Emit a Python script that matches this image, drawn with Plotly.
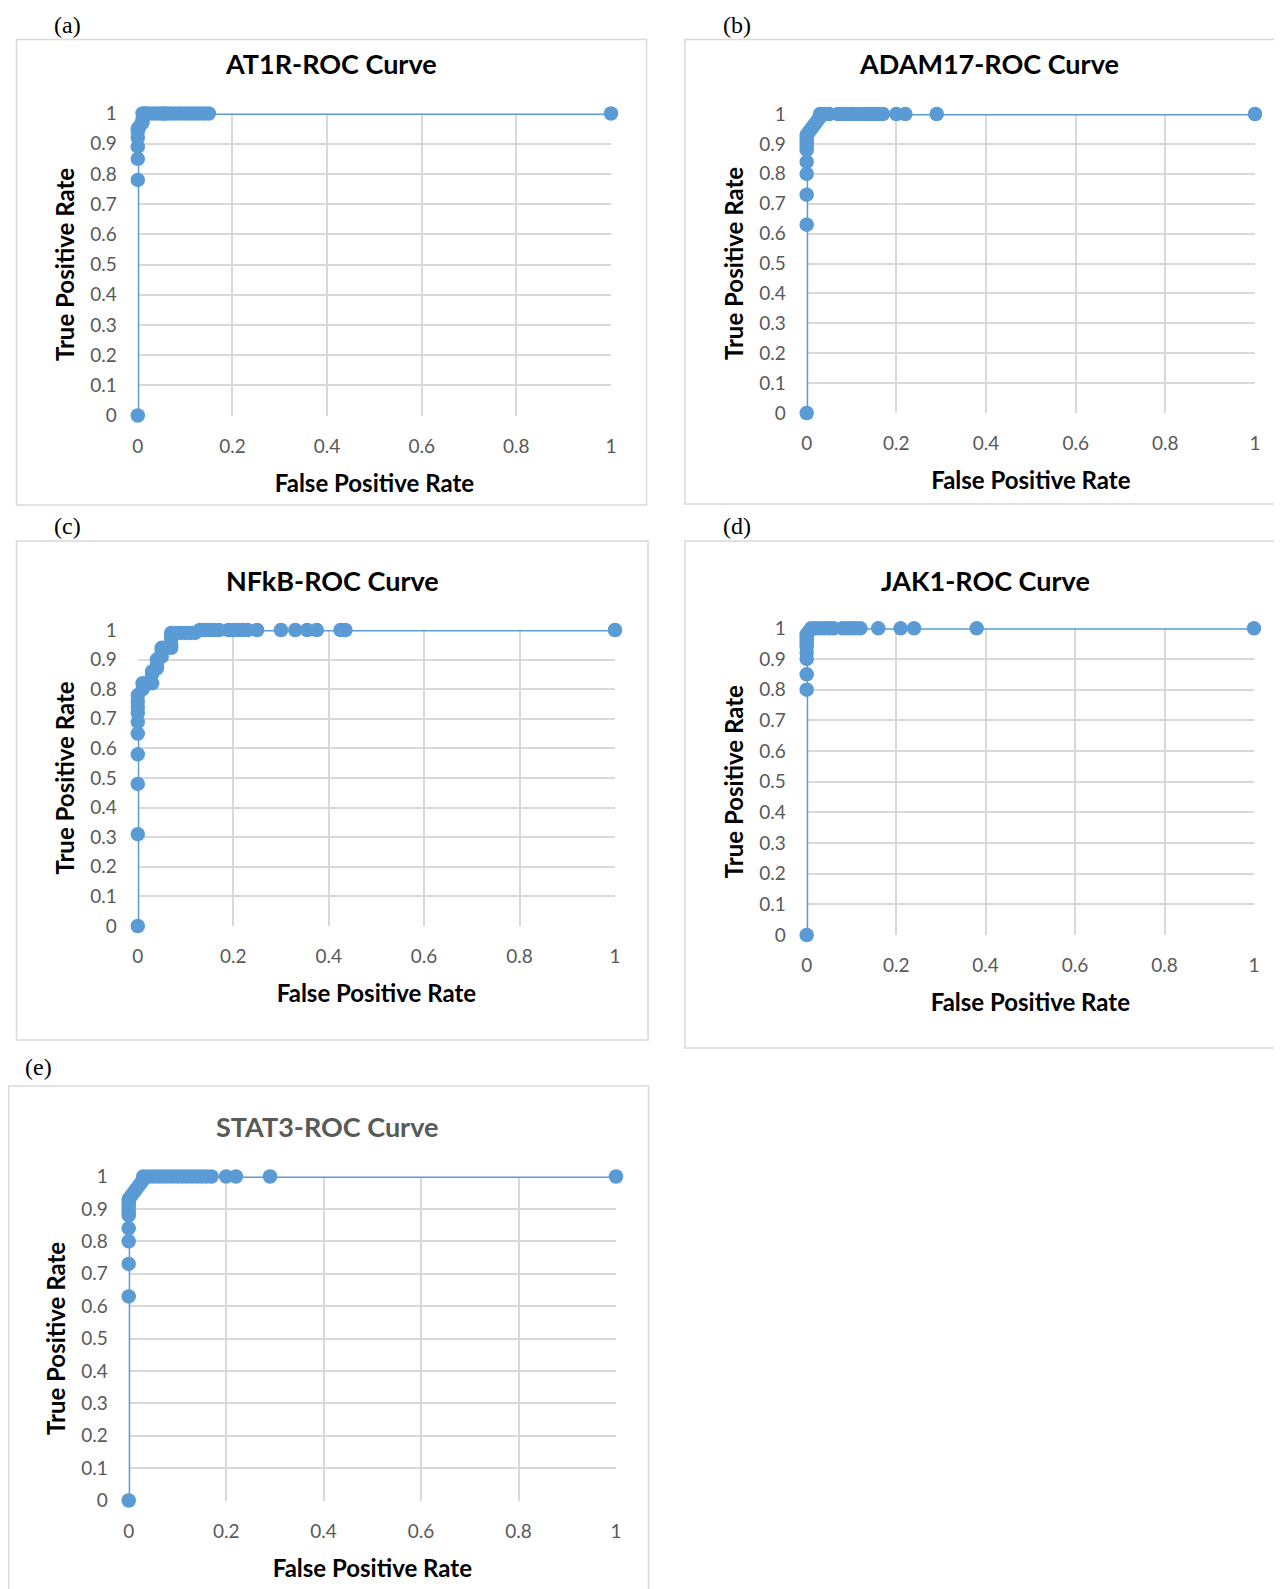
import plotly.graph_objects as go

OFF = 8  # page body margin of the browser
W, H = 1282 - OFF, 1589 - OFF

# ---------------- data ----------------
titles = ["AT1R-ROC Curve", "ADAM17-ROC Curve", "NFkB-ROC Curve", "JAK1-ROC Curve", "STAT3-ROC Curve"]
panel_labels = ["(a)", "(b)", "(c)", "(d)", "(e)"]

fpr_at1r = [0, 0, 0, 0, 0, 0, 0, 0.005, 0.01, 0.01, 0.01, 0.015, 0.02, 0.03, 0.04, 0.05, 0.055,
            0.06, 0.07, 0.08, 0.09, 0.10, 0.11, 0.12, 0.13, 0.14, 0.15, 1]
tpr_at1r = [0, 0.78, 0.85, 0.89, 0.92, 0.94, 0.95, 0.96, 0.97, 0.98, 1, 1, 1, 1, 1, 1, 1,
            1, 1, 1, 1, 1, 1, 1, 1, 1, 1, 1]

fpr_adam17 = [0, 0, 0, 0, 0, 0, 0, 0, 0, 0, 0, 0.005, 0.01, 0.015, 0.02, 0.025, 0.03, 0.03, 0.04,
              0.05, 0.07, 0.08, 0.09, 0.10, 0.11, 0.12, 0.13, 0.14, 0.15, 0.16, 0.17, 0.20, 0.22, 0.29, 1]
tpr_adam17 = [0, 0.63, 0.73, 0.80, 0.84, 0.88, 0.89, 0.90, 0.91, 0.92, 0.93, 0.94, 0.95, 0.96, 0.97, 0.98, 0.99, 1, 1,
              1, 1, 1, 1, 1, 1, 1, 1, 1, 1, 1, 1, 1, 1, 1, 1]

fpr_nfkb = [0, 0, 0, 0, 0, 0, 0, 0, 0, 0, 0.01, 0.01, 0.02, 0.03, 0.03, 0.03, 0.04, 0.04, 0.04,
            0.05, 0.05, 0.05, 0.06, 0.07, 0.07, 0.07, 0.07, 0.07, 0.08, 0.09, 0.10, 0.11, 0.12,
            0.13, 0.14, 0.15, 0.16, 0.17, 0.19, 0.20, 0.21, 0.22, 0.23, 0.25, 0.30, 0.33, 0.355,
            0.375, 0.425, 0.435, 1]
tpr_nfkb = [0, 0.31, 0.48, 0.58, 0.65, 0.69, 0.72, 0.74, 0.76, 0.78, 0.80, 0.82, 0.82, 0.82, 0.85, 0.86, 0.87, 0.88, 0.90,
            0.91, 0.93, 0.94, 0.94, 0.94, 0.95, 0.97, 0.98, 0.99, 0.99, 0.99, 0.99, 0.99, 0.99,
            1, 1, 1, 1, 1, 1, 1, 1, 1, 1, 1, 1, 1, 1,
            1, 1, 1, 1]

fpr_jak1 = [0, 0, 0, 0, 0, 0, 0, 0, 0, 0, 0.005, 0.01, 0.02, 0.03, 0.04, 0.05, 0.06, 0.08, 0.09,
            0.10, 0.11, 0.12, 0.16, 0.21, 0.24, 0.38, 1]
tpr_jak1 = [0, 0.80, 0.85, 0.90, 0.92, 0.94, 0.95, 0.96, 0.97, 0.98, 0.99, 1, 1, 1, 1, 1, 1, 1, 1,
            1, 1, 1, 1, 1, 1, 1, 1]

fpr_stat3 = [0, 0, 0, 0, 0, 0, 0, 0, 0, 0, 0, 0.005, 0.01, 0.015, 0.02, 0.025, 0.03, 0.03, 0.04,
             0.05, 0.06, 0.07, 0.08, 0.09, 0.10, 0.11, 0.12, 0.13, 0.14, 0.15, 0.16, 0.17, 0.20, 0.22, 0.29, 1]
tpr_stat3 = [0, 0.63, 0.73, 0.80, 0.84, 0.88, 0.89, 0.90, 0.91, 0.92, 0.93, 0.94, 0.95, 0.96, 0.97, 0.98, 0.99, 1, 1,
             1, 1, 1, 1, 1, 1, 1, 1, 1, 1, 1, 1, 1, 1, 1, 1, 1]

x_tickvals = [0, 0.2, 0.4, 0.6, 0.8, 1]
x_ticktext = ["0", "0.2", "0.4", "0.6", "0.8", "1"]
y_tickvals = [0, 0.1, 0.2, 0.3, 0.4, 0.5, 0.6, 0.7, 0.8, 0.9, 1]
y_ticktext = ["0", "0.1", "0.2", "0.3", "0.4", "0.5", "0.6", "0.7", "0.8", "0.9", "1"]

series = [(fpr_at1r, tpr_at1r), (fpr_adam17, tpr_adam17), (fpr_nfkb, tpr_nfkb),
          (fpr_jak1, tpr_jak1), (fpr_stat3, tpr_stat3)]

# ---------------- layout geometry (page pixels) ----------------
plot_px = [  # x0, x1, ytop, ybottom
    (137.8, 611.0, 113.5, 415.5),
    (806.7, 1255.0, 114.0, 413.0),
    (137.8, 615.0, 630.0, 926.0),
    (806.7, 1254.0, 628.3, 935.0),
    (128.7, 616.0, 1176.5, 1500.5),
]
box_px = [  # x0, x1, y0, y1
    (16.5, 646.5, 39.5, 505.0),
    (685.0, 1300.0, 39.5, 504.0),
    (16.5, 648.0, 541.0, 1040.0),
    (685.0, 1300.0, 541.0, 1048.0),
    (8.5, 648.5, 1086.0, 1610.0),
]
title_pos = [(331, 64), (989, 64), (332, 580), (985, 580), (327, 1126)]
title_colors = ["#000000", "#000000", "#000000", "#000000", "#595959"]
label_pos = [(67, 25), (737, 25), (67, 526), (737, 526), (38.5, 1067)]

BLUE = "#5B9BD5"
GRID = "#D9D9D9"
FONT = "Lato"


def fx_(px):
    return (px - OFF) / W


def fy_(py):
    return 1 - (py - OFF) / H


fig = go.Figure()
layout = dict(width=W, height=H, margin=dict(l=0, r=0, t=0, b=0, pad=0, autoexpand=False),
              paper_bgcolor="white", plot_bgcolor="white", showlegend=False)

annotations = []
shapes = []
for i, ((fx, ty), (x0, x1, yt, yb)) in enumerate(zip(series, plot_px)):
    n = "" if i == 0 else str(i + 1)
    fig.add_trace(go.Scatter(x=fx, y=ty, mode="lines+markers", xaxis="x" + n, yaxis="y" + n,
                             line=dict(color=BLUE, width=3),
                             marker=dict(color=BLUE, size=14.5),
                             cliponaxis=False, name=titles[i]))
    layout["xaxis" + n] = dict(domain=[fx_(x0), fx_(x1)], anchor="y" + n, range=[0, 1],
                               automargin=False,
                               tickvals=x_tickvals, ticktext=x_ticktext,
                               showgrid=True, gridcolor=GRID, gridwidth=1.5, zeroline=False,
                               showline=False, ticks="", ticklabelstandoff=17,
                               tickfont=dict(family=FONT, size=19, color="#595959"),
                               title=dict(text="False Positive Rate", standoff=19,
                                          font=dict(family=FONT, size=24, color="#000000", weight="bold")))
    layout["yaxis" + n] = dict(domain=[fy_(yb), fy_(yt)], anchor="x" + n, range=[0, 1],
                               automargin=False,
                               tickvals=y_tickvals, ticktext=y_ticktext,
                               showgrid=True, gridcolor=GRID, gridwidth=1.5, zeroline=False,
                               showline=False, ticks="", ticklabelstandoff=20,
                               tickfont=dict(family=FONT, size=19, color="#595959"),
                               title=dict(text="True Positive Rate", standoff=8,
                                          font=dict(family=FONT, size=24, color="#000000", weight="bold")))
    bx0, bx1, by0, by1 = box_px[i]
    shapes.append(dict(type="rect", xref="paper", yref="paper", x0=fx_(bx0), x1=fx_(bx1),
                       y0=fy_(by1), y1=fy_(by0), line=dict(color=GRID, width=1.5),
                       fillcolor="rgba(0,0,0,0)", layer="below"))
    tx, tyy = title_pos[i]
    annotations.append(dict(text="<b>" + titles[i] + "</b>", xref="paper", yref="paper",
                            x=fx_(tx), y=fy_(tyy), xanchor="center", yanchor="middle",
                            showarrow=False, font=dict(family=FONT, size=27, color=title_colors[i])))
    lx, ly = label_pos[i]
    annotations.append(dict(text=panel_labels[i], xref="paper", yref="paper",
                            x=fx_(lx), y=fy_(ly), xanchor="center", yanchor="middle",
                            showarrow=False, font=dict(family="Liberation Serif", size=24, color="#000000")))

layout["annotations"] = annotations
layout["shapes"] = shapes
fig.update_layout(**layout)
fig.write_html("out.html")
